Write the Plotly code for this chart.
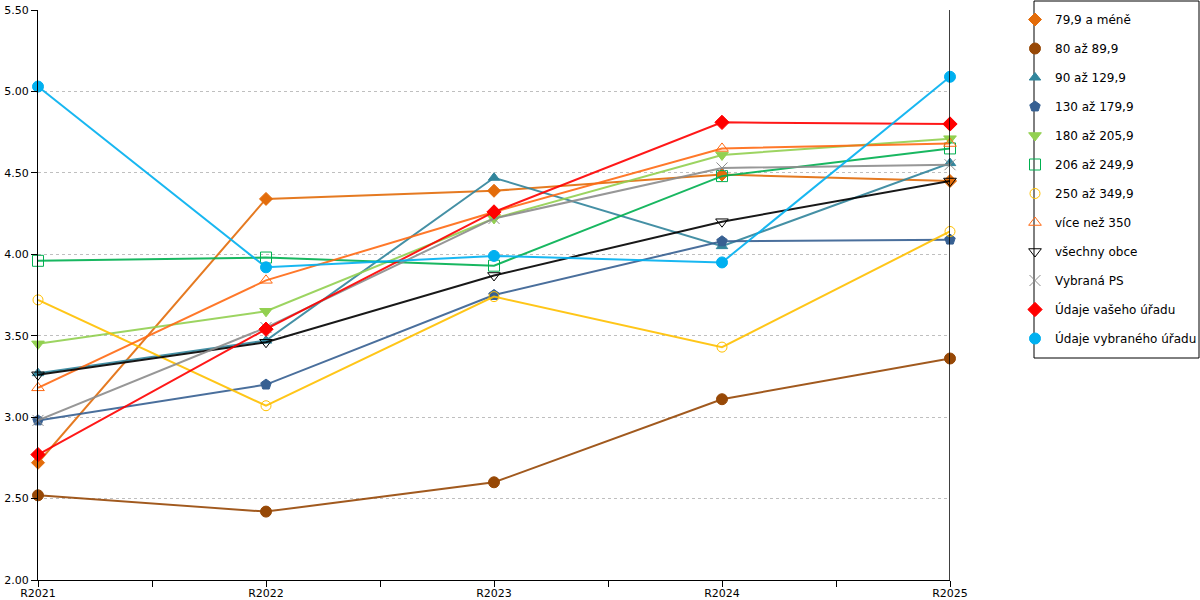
import plotly.graph_objects as go

years = ["R2021", "R2022", "R2023", "R2024", "R2025"]

names = ["79,9 a méně", "80 až 89,9", "90 až 129,9", "130 až 179,9", "180 až 205,9",
         "206 až 249,9", "250 až 349,9", "více než 350", "všechny obce", "Vybraná PS",
         "Údaje vašeho úřadu", "Údaje vybraného úřadu"]

s_79 = [2.72, 4.34, 4.39, 4.49, 4.45]
s_80 = [2.52, 2.42, 2.60, 3.11, 3.36]
s_90 = [3.27, 3.47, 4.47, 4.05, 4.56]
s_130 = [2.98, 3.20, 3.75, 4.08, 4.09]
s_180 = [3.45, 3.65, 4.22, 4.61, 4.71]
s_206 = [3.96, 3.98, 3.93, 4.48, 4.65]
s_250 = [3.72, 3.07, 3.74, 3.43, 4.14]
s_350 = [3.18, 3.84, 4.26, 4.65, 4.68]
s_all = [3.26, 3.46, 3.87, 4.20, 4.45]
s_ps = [2.98, 3.55, 4.22, 4.53, 4.55]
s_vas = [2.77, 3.54, 4.26, 4.81, 4.80]
s_vyb = [5.03, 3.92, 3.99, 3.95, 5.09]

series = [s_79, s_80, s_90, s_130, s_180, s_206, s_250, s_350, s_all, s_ps, s_vas, s_vyb]

colors = ["#E36C0A", "#974806", "#31859C", "#376092", "#92D050", "#00B050",
          "#FFC000", "#FF6A13", "#000000", "#8C8C8C", "#FF0000", "#00B0F0"]
symbols = ["diamond", "circle", "triangle-up", "pentagon", "triangle-down", "square-open",
           "circle-open", "triangle-up-open", "triangle-down-open", "x-thin-open",
           "diamond", "circle"]
sizes = [10, 11, 10, 11, 11, 11, 10, 11, 11, 11, 11, 11]

xpos = list(range(len(years)))

fig = go.Figure()
for i, (nm, vals) in enumerate(zip(names, series)):
    fig.add_trace(go.Scatter(
        x=xpos, y=vals, mode="lines", name=nm, showlegend=False,
        legendgroup=f"g{i}", line=dict(color=colors[i], width=2),
        opacity=0.9, hoverinfo="skip", cliponaxis=False))
    fig.add_trace(go.Scatter(
        x=xpos, y=vals, mode="markers", name=nm, legendgroup=f"g{i}",
        cliponaxis=False,
        marker=dict(symbol=symbols[i], size=sizes[i], color=colors[i],
                    line=dict(width=1, color=colors[i]))))

tickvals = [0, 0.5, 1, 1.5, 2, 2.5, 3, 3.5, 4]
ticktext = ["R2021", "", "R2022", "", "R2023", "", "R2024", "", "R2025"]

fig.update_layout(
    width=1200, height=600,
    margin=dict(l=38, r=250, t=10, b=20, autoexpand=False),
    paper_bgcolor="white", plot_bgcolor="white",
    font=dict(family="DejaVu Sans", size=11, color="#000000"),
    xaxis=dict(range=[0, 4], tickvals=tickvals, ticktext=ticktext,
               showgrid=False, zeroline=False, showline=True, linecolor="black",
               linewidth=1, ticks="outside", ticklen=6, tickcolor="black",
               tickfont=dict(size=11), automargin=False, ticklabelstandoff=-3),
    yaxis=dict(range=[2, 5.5], dtick=0.5, tickformat=".2f",
               showgrid=True, gridcolor="#BFBFBF", griddash="dot", gridwidth=1,
               zeroline=False, showline=True, linecolor="black", linewidth=1,
               ticks="outside", ticklen=6, tickcolor="black",
               tickfont=dict(size=11), automargin=False),
    legend=dict(x=(1015 - 38) / 912, xanchor="left", y=(580 - 179) / 570, yanchor="middle",
                font=dict(family="DejaVu Sans", size=12, color="#000000"),
                bgcolor="rgba(0,0,0,0)", borderwidth=0,
                tracegroupgap=10, itemclick=False),
    shapes=[
        dict(type="line", xref="x", yref="paper", x0=4, x1=4, y0=0, y1=1,
             line=dict(color="black", width=1.5)),
        dict(type="rect", xref="paper", yref="paper",
             x0=(1034 - 38) / 912, x1=(1199 - 38) / 912,
             y0=(580 - 358) / 570, y1=(580 - 1) / 570,
             line=dict(color="black", width=1), fillcolor="rgba(0,0,0,0)"),
    ],
)

fig.write_html(
    "out.html",
    config={"displayModeBar": False},
    post_script="document.body.style.margin='0px';document.documentElement.style.overflow='hidden';",
)
